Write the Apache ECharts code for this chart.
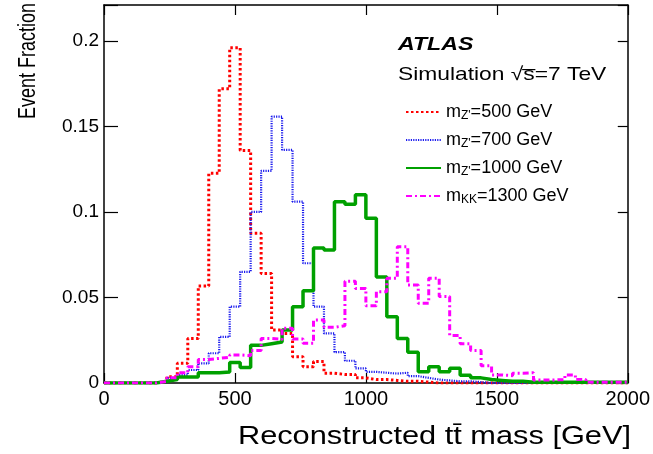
<!DOCTYPE html>
<html><head><meta charset="utf-8">
<script src="https://cdn.jsdelivr.net/npm/echarts@6/dist/echarts.min.js"></script>
<style>html,body{margin:0;padding:0;background:#fff}#c{width:653px;height:454px}</style>
</head><body><div id="c"></div>
<script>
// 40 GeV bins from 0 to 2000 GeV (low edges)
const binWidth = 40;
const binLow = Array.from({length: 50}, (_, i) => i * binWidth);

const legendNames = ["mZ500", "mZ700", "mZ1000", "mKK1300"];

const zp500 = [0,0,0,0,0, 0.001,0.0037,0.0115,0.026,0.0567, 0.1226,0.172,0.196,0.136,0.0875,
  0.064,0.031,0.029,0.0154,0.0095, 0.0125,0.0057,0.005,0.005,0.003, 0.002,0.002,0.0015,0.001,0.001,
  0.0005,0,0,0,0, 0,0,0,0,0, 0,0,0,0,0, 0,0,0,0,0];
const zp700 = [0,0,0,0,0, 0.001,0.003,0.0047,0.0076,0.0115, 0.0174,0.027,0.0446,0.065,0.100,
  0.124,0.1557,0.1363,0.106,0.070, 0.0446,0.029,0.018,0.013,0.0085, 0.0065,0.006,0.0055,0.006,0.004,
  0.003,0.002,0.0015,0.001,0.001, 0.0005,0,0,0,0, 0,0,0,0,0, 0,0,0,0,0];
const zp1000 = [0,0,0,0,0, 0.001,0.002,0.0035,0.0035,0.006, 0.006,0.0065,0.012,0.009,0.022,
  0.023,0.024,0.031,0.0446,0.054, 0.079,0.0778,0.106,0.1045,0.110, 0.0963,0.062,0.0388,0.026,0.018,
  0.0066,0.0095,0.0066,0.0086,0.0045, 0.003,0.002,0.0015,0.001,0.001, 0.0005,0.0005,0.0005,0.0005,0.0005,
  0.0005,0.0005,0.0005,0.0005,0.0005];
const kk1300 = [0,0,0,0,0, 0.001,0.003,0.006,0.0095,0.0138, 0.0144,0.015,0.0164,0.016,0.019,
  0.026,0.0255,0.032,0.0257,0.0232, 0.0368,0.0326,0.0335,0.0595,0.0553, 0.0451,0.0534,0.0612,0.0797,0.0573,
  0.0466,0.0612,0.0505,0.0278,0.023, 0.019,0.0101,0.0047,0.0043,0.0057, 0.006,0.0018,0.0018,0.002,0.0047,
  0.002,0.0005,0.0005,0.0005,0.0005];

const xTicks = [0, 500, 1000, 1500, 2000];
const yTicks = [0, 0.05, 0.1, 0.15, 0.2];

function toStep(vals) {
  const d = binLow.map((x, i) => [x, vals[i]]);
  d.push([binLow[binLow.length - 1] + binWidth, vals[vals.length - 1]]);
  return d;
}

const FONT = "'Liberation Sans', Arial, sans-serif";
const chart = echarts.init(document.getElementById('c'), null, {renderer: 'canvas'});

const legendText = {
  mZ500: "{m|m}{s|Z'}{m|=500 GeV}",
  mZ700: "{m|m}{s|Z'}{m|=700 GeV}",
  mZ1000: "{m|m}{s|Z'}{m|=1000 GeV}",
  mKK1300: "{m|m}{s|KK}{m|=1300 GeV}"
};

const axisCommon = {
  type: 'value',
  axisLine: {show: true, onZero: false, lineStyle: {color: '#000', width: 1.5}},
  splitLine: {show: false}
};

chart.setOption({
  animation: false,
  backgroundColor: '#fff',
  grid: {left: 104, right: 22, top: 5, bottom: 71, containLabel: false},
  xAxis: [
    Object.assign({}, axisCommon, {
      position: 'bottom', min: 0, max: 2000, interval: 500,
      axisTick: {show: true, inside: true, length: 10, lineStyle: {color: '#000', width: 1.2}},
      axisLabel: {show: true, color: '#000', fontFamily: FONT, fontSize: 20, margin: 6,
        formatter: v => xTicks.includes(v) ? String(v) : ''}
    }),
    Object.assign({}, axisCommon, {
      position: 'top', min: 0, max: 2000, interval: 500,
      axisTick: {show: true, inside: true, length: 10, lineStyle: {color: '#000', width: 1.2}},
      axisLabel: {show: false}
    })
  ],
  yAxis: [
    Object.assign({}, axisCommon, {
      position: 'left', min: 0, max: 0.221, interval: 0.05,
      axisTick: {show: true, inside: true, length: 14, lineStyle: {color: '#000', width: 1.2}},
      axisLabel: {show: true, color: '#000', fontFamily: FONT, fontSize: 19, margin: 5,
        formatter: v => {
          const t = yTicks.find(y => Math.abs(y - v) < 1e-6);
          return t === undefined ? '' : String(t);
        }}
    }),
    Object.assign({}, axisCommon, {
      position: 'right', min: 0, max: 0.221, interval: 0.05,
      axisTick: {show: true, inside: true, length: 10, lineStyle: {color: '#000', width: 1.2}},
      axisLabel: {show: false}
    })
  ],
  legend: {
    orient: 'vertical', left: 405, top: 101, padding: 0,
    itemWidth: 35, itemHeight: 14, itemGap: 7,
    data: legendNames,
    itemStyle: {opacity: 0},
    formatter: name => legendText[name],
    textStyle: {
      color: '#000', fontFamily: FONT, fontSize: 18,
      rich: {
        m: {fontSize: 18, fontFamily: FONT, color: '#000', lineHeight: 20},
        s: {fontSize: 12, fontFamily: FONT, color: '#000', lineHeight: 20, verticalAlign: 'bottom', padding: [9, 0, 0, 0]}
      }
    }
  },
  series: [
    {name: 'mZ500', type: 'line', step: 'end', data: toStep(zp500), symbol: 'none',
      lineStyle: {color: '#ff0000', width: 3, type: [2.5, 2.5]}, itemStyle: {color: '#ff0000'}, z: 2},
    {name: 'mZ700', type: 'line', step: 'end', data: toStep(zp700), symbol: 'none',
      lineStyle: {color: '#1a1aee', width: 2.2, type: [1.2, 1.2]}, itemStyle: {color: '#1a1aee'}, z: 3},
    {name: 'mZ1000', type: 'line', step: 'end', data: toStep(zp1000), symbol: 'none',
      lineStyle: {color: '#00a000', width: 3.5, type: 'solid'}, itemStyle: {color: '#00a000'}, z: 4},
    {name: 'mKK1300', type: 'line', step: 'end', data: toStep(kk1300), symbol: 'none',
      lineStyle: {color: '#ff00ff', width: 3, type: [6, 3, 2, 3]}, itemStyle: {color: '#ff00ff'}, z: 5}
  ],
  graphic: [
    {type: 'text', x: 398, y: 45, scaleX: 1.25, style: {text: 'ATLAS', font: "italic bold 18.5px 'Liberation Sans', Arial, sans-serif", fill: '#000', verticalAlign: 'middle'}},
    {type: 'text', x: 398, y: 75, scaleX: 1.2, style: {text: 'Simulation √s\u0305=7 TeV', font: "19px 'Liberation Sans', Arial, sans-serif", fill: '#000', verticalAlign: 'middle'}},
    {type: 'text', x: 631, y: 437, scaleX: 1.23, style: {text: 'Reconstructed tt\u0304 mass [GeV]', font: "25px 'Liberation Sans', Arial, sans-serif", fill: '#000', align: 'right', verticalAlign: 'middle'}},
    {type: 'text', x: 28, y: 3, rotation: Math.PI / 2, scaleY: 1.35, style: {text: 'Event Fraction', font: "18px 'Liberation Sans', Arial, sans-serif", fill: '#000', align: 'right', verticalAlign: 'middle'}}
  ]
});
</script></body></html>
